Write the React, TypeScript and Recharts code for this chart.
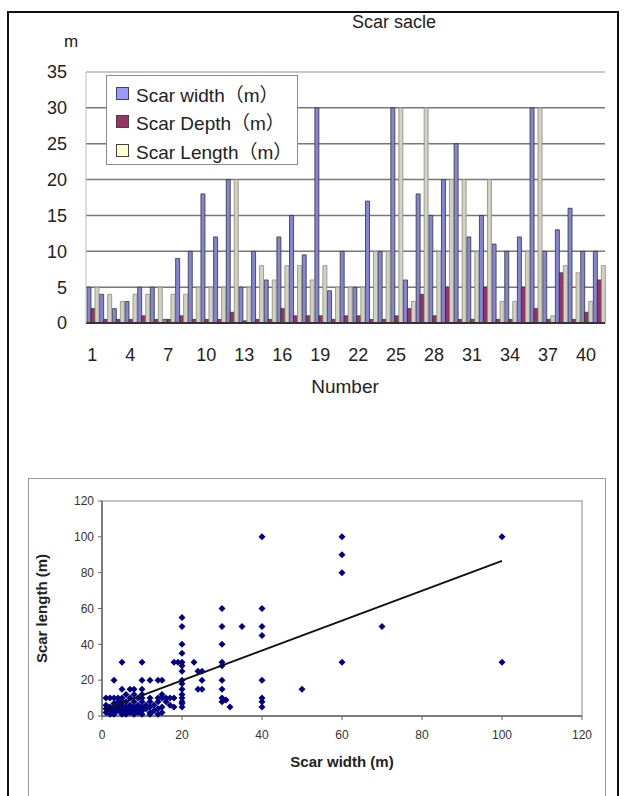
import React from 'react';
import {
  BarChart,
  Bar,
  XAxis,
  YAxis,
  CartesianGrid,
  Legend,
  ReferenceLine,
  ReferenceArea,
  ScatterChart,
  Scatter,
} from 'recharts';

// top chart: scar size per scar number
const scarNumbers = [
  '1', '2', '3', '4', '5', '6', '7', '8', '9', '10', '11', '12', '13', '14',
  '15', '16', '17', '18', '19', '20', '21', '22', '23', '24', '25', '26', '27',
  '28', '29', '30', '31', '32', '33', '34', '35', '36', '37', '38', '39', '40', '41',
];
const scarWidth = [
  5, 4, 2, 3, 5, 5, 0.5, 9, 10, 18, 12, 20, 5, 10, 6, 12, 15, 9.5, 30, 4.5, 10,
  5, 17, 10, 30, 6, 18, 15, 20, 25, 12, 15, 11, 10, 12, 30, 10, 13, 16, 10, 10,
];
const scarDepth = [
  2, 0.5, 0.5, 0.5, 1, 0.5, 0.5, 1, 0.5, 0.5, 0.5, 1.5, 0.3, 0.5, 0.5, 2, 1, 1,
  1, 0.5, 1, 1, 0.5, 0.5, 1, 2, 4, 1, 5, 0.5, 0.5, 5, 0.5, 0.5, 5, 2, 0.5, 7,
  0.5, 1.5, 6,
];
const scarLength = [
  5, 4, 3, 4, 4, 5, 4, 4, 5, 5, 5, 20, 5, 8, 6, 8, 8, 6, 8, 5, 5, 5, 10, 10, 30,
  3, 30, 10, 20, 20, 10, 20, 3, 3, 10, 30, 1, 8, 7, 3, 8,
];
const barTicks = [0, 5, 10, 15, 20, 25, 30, 35];

const series = [
  { key: 'width', name: 'Scar width（m）', swatch: '#9999ff', fill: '#8484d8', stroke: '#333' },
  { key: 'depth', name: 'Scar Depth（m）', swatch: '#993366', fill: '#993366', stroke: '#333' },
  { key: 'length', name: 'Scar Length（m）', swatch: '#ffffcc', fill: '#d2d2c2', stroke: '#8a8a80' },
];

// bottom chart: scar width vs scar length
const scarPoints: [number, number][] = [
  [1, 2], [1, 4], [1, 6], [1, 10], [2, 1], [2, 3], [2, 5], [2, 10],
  [3, 1], [3, 2], [3, 4], [3, 7], [3, 10], [3, 20], [4, 3], [4, 5], [4, 8], [4, 10],
  [5, 1], [5, 2], [5, 4], [5, 6], [5, 8], [5, 10], [5, 15], [5, 30],
  [6, 1], [6, 3], [6, 5], [6, 8], [6, 12], [7, 2], [7, 4], [7, 6], [7, 10], [7, 15],
  [8, 1], [8, 3], [8, 5], [8, 8], [8, 12], [8, 15], [9, 2], [9, 4], [9, 6], [9, 10],
  [10, 1], [10, 3], [10, 5], [10, 8], [10, 10], [10, 12], [10, 15], [10, 20], [10, 30],
  [11, 4], [11, 6], [12, 1], [12, 2], [12, 5], [12, 8], [12, 10], [12, 20],
  [13, 3], [13, 6], [14, 1], [14, 4], [14, 8], [14, 10], [14, 20],
  [15, 2], [15, 5], [15, 10], [15, 12], [15, 20], [16, 8], [16, 10], [17, 6], [17, 10],
  [18, 5], [18, 10], [18, 30], [19, 30],
  [20, 5], [20, 7], [20, 8], [20, 10], [20, 12], [20, 15], [20, 18], [20, 20], [20, 25],
  [20, 28], [20, 30], [20, 35], [20, 40], [20, 50], [20, 55],
  [23, 30], [24, 25], [25, 20], [24, 15], [25, 15], [25, 25],
  [30, 8], [30, 10], [30, 15], [30, 20], [30, 28], [30, 30], [30, 40], [30, 50], [30, 60],
  [31, 9], [32, 5], [35, 50],
  [40, 5], [40, 8], [40, 10], [40, 20], [40, 45], [40, 50], [40, 60], [40, 100],
  [50, 15], [60, 30], [60, 80], [60, 90], [60, 100], [70, 50], [100, 30], [100, 100],
];
const trendWidth = [1, 100];
const trendLength = [4, 86.6];
const scatterTicks = [0, 20, 40, 60, 80, 100, 120];

const barData = scarNumbers.map((n, i) => ({
  n,
  width: scarWidth[i],
  depth: scarDepth[i],
  length: scarLength[i],
}));
const pointData = scarPoints.map(([w, l]) => ({ w, l }));
const trendData = trendWidth.map((w, i) => ({ w, l: trendLength[i] }));

const FONT = '"Liberation Sans", Arial, "Noto Sans CJK JP", sans-serif';

const LegendBox = () => (
  <div
    style={{
      width: 192,
      height: 90,
      border: '1.5px solid #8c8c8c',
      background: '#fff',
      boxSizing: 'border-box',
      paddingTop: 3,
      fontFamily: FONT,
      fontSize: 19,
      color: '#222',
    }}
  >
    {series.map((s) => (
      <div key={s.key} style={{ display: 'flex', alignItems: 'center', height: 28.5 }}>
        <span
          style={{
            display: 'inline-block',
            width: 11,
            height: 11,
            marginLeft: 9,
            marginRight: 7,
            background: s.swatch,
            border: '1px solid #444',
          }}
        />
        <span>{s.name}</span>
      </div>
    ))}
  </div>
);

const Diamond = (props: any) => {
  const { cx, cy } = props;
  const r = 3.5;
  return (
    <path
      d={`M${cx},${cy - r}L${cx + r},${cy}L${cx},${cy + r}L${cx - r},${cy}Z`}
      fill="#000080"
    />
  );
};

const NoDot = () => <g />;

export default function App() {
  return (
    <div
      style={{
        position: 'absolute',
        left: 0,
        top: 0,
        width: 624,
        height: 796,
        overflow: 'hidden',
        background: '#fff',
        fontFamily: FONT,
      }}
    >
      <div
        style={{
          position: 'absolute',
          left: 7,
          top: 11,
          width: 608,
          height: 820,
          border: '2px solid #111',
        }}
      />
      <div
        style={{ position: 'absolute', left: 294, top: 12, width: 200, textAlign: 'center', fontSize: 18, color: '#222' }}
      >
        Scar sacle
      </div>
      <div style={{ position: 'absolute', left: 64, top: 32, fontSize: 17, color: '#222' }}>m</div>
      <div
        style={{ position: 'absolute', left: 245, top: 376, width: 200, textAlign: 'center', fontSize: 19, color: '#222' }}
      >
        Number
      </div>

      <div style={{ position: 'absolute', left: 0, top: 0 }}>
        <BarChart
          width={624}
          height={420}
          data={barData}
          margin={{ top: 72, right: 19, bottom: 0, left: 0 }}
          barCategoryGap="8%"
          barGap={0}
        >
          <CartesianGrid vertical={false} stroke="#777" strokeWidth={1.5} />
          <XAxis
            dataKey="n"
            height={97}
            interval={2}
            tickLine={false}
            tickSize={0}
            tickMargin={25}
            axisLine={{ stroke: '#333', strokeWidth: 2 }}
            tick={{ fontSize: 18, fill: '#222' }}
          />
          <YAxis
            width={86}
            domain={[0, 35]}
            ticks={barTicks}
            tickLine={false}
            tickSize={0}
            tickMargin={19}
            axisLine={{ stroke: '#bbb' }}
            tick={{ fontSize: 18, fill: '#222' }}
          />
          <YAxis
            yAxisId="r"
            orientation="right"
            width={0}
            domain={[0, 35]}
            tick={false}
            tickLine={false}
            axisLine={{ stroke: '#bbb' }}
          />
          <ReferenceLine y={35} stroke="#c8c8c8" strokeWidth={2} />
          <Legend
            layout="vertical"
            align="center"
            verticalAlign="middle"
            wrapperStyle={{ left: 106, top: 75, width: 192, height: 90 }}
            content={() => <LegendBox />}
          />
          {series.map((s) => (
            <Bar
              key={s.key}
              dataKey={s.key}
              name={s.name}
              fill={s.fill}
              stroke={s.stroke}
              strokeWidth={0.8}
              isAnimationActive={false}
            />
          ))}
        </BarChart>
      </div>

      <div
        style={{
          position: 'absolute',
          left: 28,
          top: 478,
          width: 576,
          height: 340,
          border: '1.5px solid #9a9a9a',
          borderBottom: 'none',
        }}
      />
      <div style={{ position: 'absolute', left: 0, top: 470 }}>
        <ScatterChart width={624} height={310} margin={{ top: 31, right: 42, bottom: 0, left: 0 }}>
          <ReferenceArea x1={0} x2={120} y1={0} y2={120} fill="none" stroke="#b0b0b0" strokeWidth={1.5} />
          <XAxis
            type="number"
            dataKey="w"
            domain={[0, 120]}
            ticks={scatterTicks}
            height={64}
            tickSize={4}
            tickMargin={10}
            axisLine={{ stroke: '#666', strokeWidth: 1.5 }}
            tickLine={{ stroke: '#666' }}
            tick={{ fontSize: 12, fill: '#333' }}
            label={{
              value: 'Scar width (m)',
              position: 'insideBottom',
              offset: 13,
              style: { fontSize: 15, fontWeight: 'bold', fill: '#222' },
            }}
          />
          <YAxis
            type="number"
            dataKey="l"
            domain={[0, 120]}
            ticks={scatterTicks}
            width={102}
            tickSize={4}
            tickMargin={4}
            axisLine={{ stroke: '#666', strokeWidth: 1.5 }}
            tickLine={{ stroke: '#666' }}
            tick={{ fontSize: 12, fill: '#333' }}
            label={{
              value: 'Scar length (m)',
              angle: -90,
              position: 'insideLeft',
              offset: 42,
              style: { fontSize: 15, fontWeight: 'bold', fill: '#222', textAnchor: 'middle' },
            }}
          />
          <Scatter data={pointData} shape={<Diamond />} isAnimationActive={false} />
          <Scatter
            data={trendData}
            shape={<NoDot />}
            line={{ stroke: '#111', strokeWidth: 2 }}
            isAnimationActive={false}
          />
        </ScatterChart>
      </div>
    </div>
  );
}
